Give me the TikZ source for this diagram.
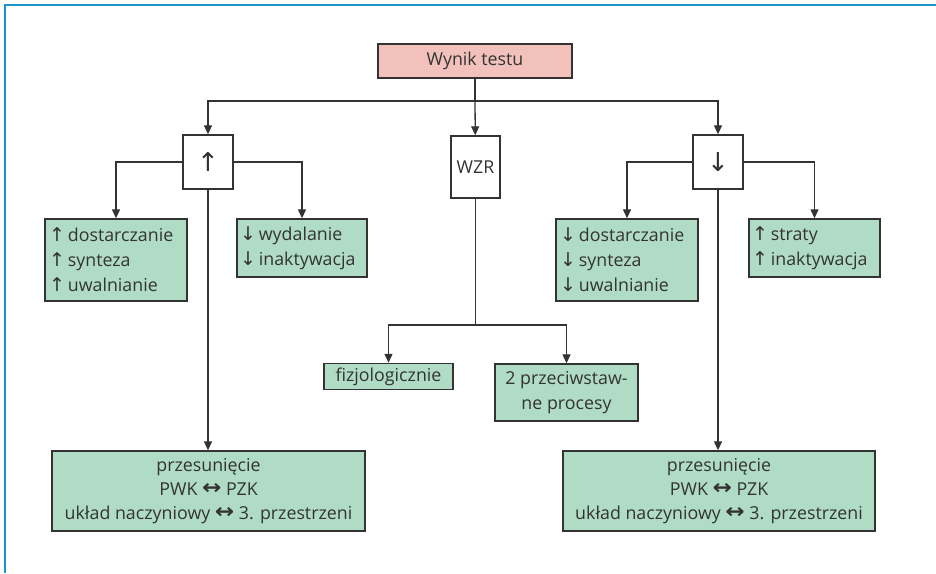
\documentclass[tikz,border=0pt]{standalone}
\usepackage{fontspec}
\setmainfont{Open Sans}
\newfontfamily\symfont{DejaVu Sans}
\newfontfamily\symfontbold{DejaVu Sans Bold}
\usetikzlibrary{arrows.meta}
\definecolor{frameblue}{HTML}{1A96C8}
\definecolor{boxgreen}{HTML}{B0DCC5}
\definecolor{boxpink}{HTML}{F2C1BB}
\definecolor{inkgray}{HTML}{333333}
\newcommand{\up}{{\symfont\fontsize{19}{19}\selectfont ↑}}
\newcommand{\dn}{{\symfont\fontsize{19}{19}\selectfont ↓}}
\newcommand{\lr}{\raisebox{0.5pt}{\scalebox{1.3}[1.15]{\symfontbold ↔}}}
\tikzset{
  base/.style={draw=inkgray, line width=1.4pt, text=inkgray, inner sep=0pt,
    font=\fontsize{17.8}{25}\selectfont},
  pinkbox/.style={base, fill=boxpink, minimum width=194, minimum height=34},
  signbox/.style={base, fill=white, minimum width=50, minimum height=54},
  greenbox/.style={base, fill=boxgreen, align=left},
  centerbox/.style={base, fill=boxgreen, align=center},
  link/.style={draw=inkgray, line width=1.3pt},
  arr/.style={link, -{Triangle[length=9pt,width=8pt]}}
}
\begin{document}
\begin{tikzpicture}[x=1pt, y=-1pt]
\useasboundingbox (0,0) rectangle (936,573);
% frame lines on the left and top
\draw[frameblue, line width=2pt] (4.5,573) -- (4.5,4.5) -- (936,4.5);

% nodes
\node[pinkbox] (top) at (475,61) {Wynik testu};
\node[signbox] (upb) at (208,162) {\symfont\fontsize{26}{26}\selectfont ↑};
\node[signbox, minimum width=49, minimum height=62] (wzr) at (475.5,167) {WZR};
\node[signbox] (dnb) at (718,162) {\symfont\fontsize{26}{26}\selectfont ↓};

\node[greenbox, minimum width=142, minimum height=82, text width=134] (g1) at (116,260)
  {\up\,dostarczanie\\\up\,synteza\\\up\,uwalnianie};
\node[greenbox, minimum width=130, minimum height=58, text width=124] (g2) at (302,248)
  {\dn\,wydalanie\\\dn\,inaktywacja};
\node[greenbox, minimum width=142, minimum height=82, text width=134] (g3) at (627,260)
  {\dn\,dostarczanie\\\dn\,synteza\\\dn\,uwalnianie};
\node[greenbox, minimum width=131, minimum height=58, text width=125] (g4) at (814.5,248)
  {\up\,straty\\\up\,inaktywacja};

\node[centerbox, minimum width=129, minimum height=26] (fz) at (388.5,376.5) {fizjologicznie};
\node[centerbox, minimum width=143, minimum height=57] (pp) at (566.5,392.5)
  {2 przeciwstaw-\\ne procesy};

\node[centerbox, minimum width=313, minimum height=80, font=\fontsize{17.8}{24}\selectfont] (b1) at (208.5,491)
  {przesunięcie\\PWK \lr\ PZK\\układ naczyniowy \lr\ 3. przestrzeni};
\node[centerbox, minimum width=312, minimum height=80, font=\fontsize{17.8}{24}\selectfont] (b2) at (719,491)
  {przesunięcie\\PWK \lr\ PZK\\układ naczyniowy \lr\ 3. przestrzeni};

% branching points
\coordinate (split) at (475,101);
\coordinate (wsplit) at (475.5,325);

% connectors
\draw[link] (top) -- (split);
\draw[arr] (split) -| (upb);
\draw[arr] (split) -| (dnb);
\draw[arr] (split) -- (wzr);

\draw[arr] (upb) -| (g1);
\draw[arr] (upb) -| (g2);
\draw[arr] (upb) -- (b1.north -| upb);

\draw[arr] (dnb) -| (g3);
\draw[arr] (dnb) -| (g4);
\draw[arr] (dnb) -- (b2.north -| dnb);

\draw[link] (wzr) -- (wsplit);
\draw[arr] (wsplit) -| (fz);
\draw[arr] (wsplit) -| (pp);
\end{tikzpicture}
\end{document}
